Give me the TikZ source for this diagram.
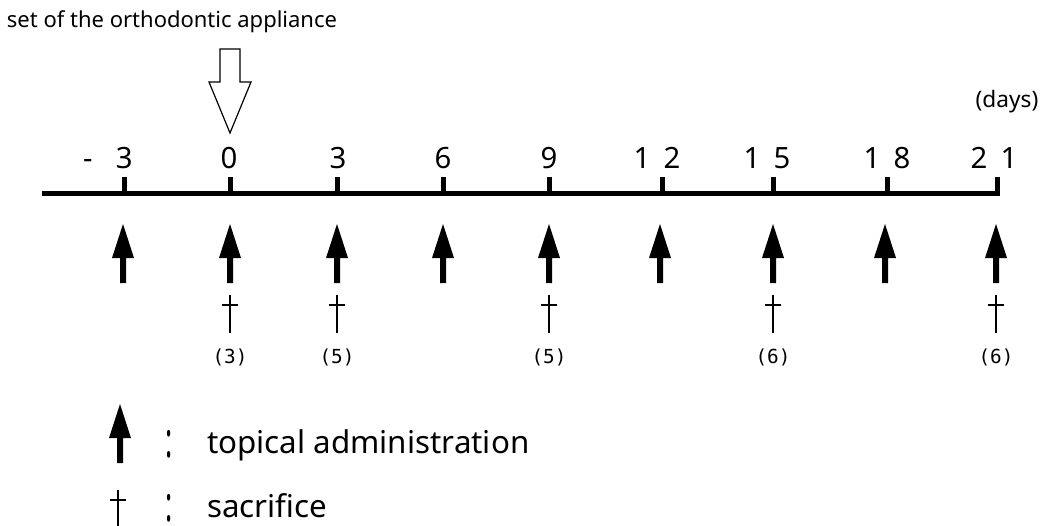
\documentclass[tikz,border=0pt]{standalone}
\usepackage{fontspec}
\setmainfont{Noto Sans}
\newfontfamily\monof{DejaVu Sans Mono}
\begin{document}
\begin{tikzpicture}[x=0.75pt,y=-0.75pt,
  daylbl/.style={font=\fontsize{22}{22}\selectfont, inner sep=0},
  txt/.style={font=\fontsize{16.5}{16.5}\selectfont, inner sep=0},
  legtxt/.style={font=\fontsize{23.5}{23.5}\selectfont, inner sep=0},
  nlbl/.style={font=\monof\fontsize{14.5}{14.5}\selectfont, inner sep=0},
  axis/.style={line width=3.75pt},
  tickmark/.style={fill=black},
  uparr/.pic={\fill (0,0) -- (11,34) -- (3,34) -- (3,59) -- (-3,59) -- (-3,34) -- (-11,34) -- cycle;},
  dagr/.pic={\draw[line width=2.2pt] (0,0) -- (0,38); \draw[line width=2pt] (-8,10) -- (8,10);},
  colonmark/.style={font=\fontsize{20}{20}\selectfont\bfseries, inner sep=0, text depth=0pt, yscale=1.85}
]
\useasboundingbox (0,0) rectangle (1044,525);

% title and hollow arrow
\node[txt] (title) at (172,22) {set of the orthodontic appliance};
\draw[line width=0.9pt, fill=white] (220,49) -- (240,49) -- (240,82) -- (251,82)
  -- (230,133) -- (209,82) -- (220,82) -- cycle;

\node[font=\fontsize{17}{17}\selectfont, inner sep=0] (days) at (1007,102) {(days)};

% axis
\coordinate (axL) at (42,193);
\coordinate (axR) at (1000,193);
\draw[axis] (axL) -- (axR);
\foreach \x in {124,230,337,443,549,662,773,887,997}
  \fill[tickmark] (\x-2.5,177) rectangle (\x+2.5,194);

% day labels
\node[daylbl, anchor=east] (lm3) at (133,158) {-\hspace{0.8em}3};
\node[daylbl] (l0) at (229,158) {0};
\node[daylbl] (l3) at (338,158) {3};
\node[daylbl] (l6) at (443,158) {6};
\node[daylbl] (l9) at (549,158) {9};
\node[daylbl] (l12) at (657,158) {1\hspace{0.45em}2};
\node[daylbl] (l15) at (767,158) {1\hspace{0.45em}5};
\node[daylbl] (l18) at (887,158) {1\hspace{0.45em}8};
\node[daylbl] (l21) at (994,158) {2\hspace{0.45em}1};

% administration arrows
\foreach \x in {123,230,337,443,549,660,773,885,996}
  \pic at (\x,224) {uparr};

% sacrifices
\foreach \x/\n in {230/3,337/5,549/5,773/6,996/6}{
  \pic at (\x,295) {dagr};
  \node[nlbl] at (\x,357) {(\n)};
}

% legend
\pic at (120,404) {uparr};
\node[colonmark] (c1) at (169,444) {:};
\node[legtxt, anchor=base west] (leg1) at (207,453) {topical administration};
\pic at (118,490) {dagr};
\node[colonmark] (c2) at (169,508) {:};
\node[legtxt, anchor=base west] (leg2) at (207,517) {sacrifice};
\end{tikzpicture}
\end{document}
